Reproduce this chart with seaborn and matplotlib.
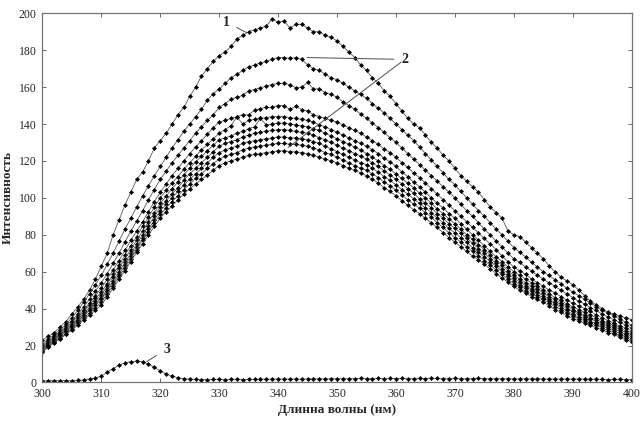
import numpy as np
import pandas as pd
import matplotlib
matplotlib.use("Agg")
import matplotlib.pyplot as plt
import seaborn as sns

# =========================
# data
# =========================
wavelength = list(range(300, 401))

curve_1 = [23, 25, 27, 30, 33, 37, 41, 45, 50, 56,
           63, 70, 80, 88, 96, 103, 110, 114, 120, 127,
           131, 135, 140, 145, 149, 155, 160, 166, 170, 174,
           177, 179, 182, 186, 188, 190, 191, 192, 193, 197,
           195, 196, 192, 194, 194, 192, 190, 190, 188, 187,
           185, 182, 179, 176, 172, 169, 165, 162, 158, 155,
           151, 147, 143, 140, 138, 134, 130, 127, 123, 120,
           116, 112, 109, 106, 103, 99, 95, 92, 89, 82,
           80, 79, 76, 73, 70, 67, 63, 60, 57, 55,
           53, 50, 47, 44, 42, 40, 38, 37, 36, 35,
           34]

curve_2a = [21, 23.5, 26, 28.5, 31.5, 35, 39, 43.5, 48, 53,
            58, 64, 70, 76.5, 83, 89, 95, 101, 106.5, 112,
            117, 122, 127, 131.5, 136, 140, 144, 148, 153, 156.5,
            159, 162, 165, 167, 169, 171, 172, 173, 174, 175,
            176, 176, 175.5, 176, 175, 172, 170, 169, 167, 165,
            164, 162, 160, 158, 156, 154, 151, 148.5, 146, 143,
            140, 137, 134, 131, 127.5, 124, 120.5, 117, 113.5, 110,
            107, 103.5, 100, 96.5, 93, 90, 86.5, 83, 80, 76.5,
            73, 70.5, 68, 65, 62.5, 60, 58, 55.5, 53.5, 51,
            49, 47, 45, 43, 41, 39, 37.5, 36, 34.5, 32.5,
            31]

curve_2b = [20, 22.5, 25, 27.5, 30.5, 33.5, 37, 41, 45, 49.5,
            54, 59, 64.5, 70, 76, 82, 87.5, 93, 99, 104.5,
            110, 114.5, 119, 123, 127, 131, 135, 138.5, 142, 145,
            149, 151, 153.5, 154.5, 155.5, 158, 158.7, 159.6, 160.5, 161.4,
            162, 162, 161.4, 159.6, 160, 162.5, 159, 159, 157, 156,
            154.5, 152, 150, 148, 145.5, 143, 140.5, 138, 135.5, 132.5,
            130, 127, 124, 121, 118, 115, 112, 109, 106, 103,
            100, 96.5, 93, 90, 86.5, 83, 80, 76.5, 73.5, 70,
            67, 65, 62.5, 60.5, 58, 56, 54, 52, 50, 48,
            46, 44, 42.5, 40.5, 39, 37, 35.5, 34, 32.5, 31,
            29.5]

curve_2c = [19.5, 22, 24.5, 27, 29.5, 32.5, 36, 39.5, 43, 47,
            51, 56, 61, 66, 71.5, 77, 82, 87, 92.5, 98,
            103, 107.5, 112, 116, 120, 124, 127.5, 131, 134.5, 138,
            141, 142, 143, 144, 145, 145, 147.5, 148.4, 149, 149,
            150, 150, 148, 149.6, 147.8, 147, 145, 144, 143, 142,
            141, 139.5, 138, 136.5, 135, 133, 131, 129, 126.5, 124.5,
            122, 119, 116.5, 113.5, 111, 108, 105, 102, 99, 96,
            93, 90, 87, 84, 81, 78, 75, 72, 68.5, 65.5,
            62.5, 60.5, 58.5, 56, 54, 52, 50, 48.5, 46.5, 44.5,
            43, 41.5, 40, 38.5, 36.5, 35, 33.5, 32, 30.5, 29.5,
            28]

curve_2d = [19, 21.5, 24, 26.5, 29, 31.5, 35, 38.5, 42, 45.5,
            49, 53.5, 58.5, 63.5, 69, 74, 79, 84.5, 89.5, 95,
            100, 104, 108, 111.5, 115.5, 119, 122.5, 126, 129, 132,
            135, 137, 139, 144, 140, 142, 142.5, 143, 143.5, 144,
            144, 144, 143.5, 143, 142.5, 142, 141, 139.5, 138.5, 137,
            135.5, 134, 132.5, 131, 129.5, 128, 126, 124, 121.5, 119.5,
            117, 114, 111.5, 108.5, 106, 103, 100, 97, 94.5, 91.5,
            89, 86, 83, 80, 77, 74, 71, 68, 65.5, 62.5,
            60, 58, 56, 54, 52, 50, 48, 46, 44.5, 42.5,
            41, 39.5, 38, 36.5, 35, 33.5, 32, 31, 29.5, 28,
            27]

curve_2e = [18.5, 21, 23.5, 26, 28.5, 31, 34, 37.5, 40.5, 44,
            47.5, 52, 57, 62, 67, 72, 77, 82, 87, 92,
            97, 101, 105, 108.5, 112.5, 116, 119.5, 122.5, 125.5, 128.5,
            131.5, 132.5, 133.5, 135, 136, 137.5, 138.5, 143, 139.5, 140,
            140.5, 140.5, 140, 139.5, 139, 138.5, 137.5, 136.5, 135, 133.5,
            132, 130.5, 129, 127.5, 126, 124, 122, 120, 117.5, 115.5,
            113, 110.5, 108, 105.5, 102.5, 100, 97, 94, 91.5, 88.5,
            86, 83, 80, 77.5, 74.5, 72, 69, 66, 63.5, 60.5,
            58, 56, 54, 52, 50.5, 48.5, 46.5, 45, 43, 41.5,
            39.5, 38, 36.5, 35, 34, 32.5, 31, 30, 28.5, 27,
            26]

curve_2f = [18, 20.5, 23, 25.5, 28, 30.5, 33.5, 36.5, 39.5, 43,
            46, 50.5, 55, 60, 65, 70, 75, 80, 85, 90,
            95, 98.5, 102, 105.5, 109.5, 113, 116, 119, 122, 125,
            128, 129.5, 130.5, 131.5, 133, 134, 135, 135.5, 136, 136.5,
            137, 137, 136.5, 136, 135.5, 135, 134, 132.5, 131.5, 130,
            128.5, 127, 125.5, 124, 122.5, 121, 119, 117, 114.5, 112.5,
            110, 107.5, 105, 102.5, 99.5, 97, 94.5, 91.5, 89, 86,
            83.5, 81, 78, 75.5, 72.5, 70, 67, 64.5, 61.5, 59,
            56.5, 54.5, 52.5, 50.5, 49, 47, 45, 43.5, 42, 40,
            38.5, 37, 35.5, 34.5, 33, 31.5, 30, 29, 27.5, 26,
            25]

curve_2g = [17.5, 20, 22.5, 25, 27.5, 30, 33, 36, 39, 42,
            45, 49.5, 54, 58.5, 63.5, 68.5, 73.5, 78, 83, 88,
            93, 96.5, 100, 103.5, 107, 110, 113, 116, 119, 122,
            124.5, 126, 127, 128, 129.5, 130.5, 131, 131.5, 132, 132.5,
            133, 133, 132.5, 132.5, 132, 131.5, 130.5, 129.5, 128, 126.5,
            125, 123.5, 122, 120.5, 119, 118, 116, 114, 111.5, 109.5,
            107, 104.5, 102, 99.5, 97, 94.5, 92, 89, 86.5, 83.5,
            81, 78.5, 76, 73, 70.5, 68, 65.5, 63, 60, 57.5,
            55, 53, 51, 49.5, 47.5, 46, 44, 42.5, 40.5, 39,
            37, 35.5, 34.5, 33, 32, 30.5, 29, 28, 26.5, 25,
            24]

curve_2h = [17, 19.5, 22, 24, 26.5, 29, 32, 35, 37.5, 40.5,
            43.5, 48, 52.5, 57.5, 62, 67, 72, 77, 81.5, 86.5,
            91, 94.5, 98, 101, 104.5, 107.5, 110.5, 113, 116, 118.5,
            121, 122.5, 123.5, 124.5, 126, 127, 127.5, 128, 128.5, 129,
            129.5, 129.5, 129, 129, 128.5, 128, 127, 126, 124.5, 123.5,
            122, 120.5, 119, 117.5, 116, 115, 113, 111, 108.5, 106.5,
            104, 101.5, 99, 96.5, 94.5, 92, 89.5, 86.5, 84, 81,
            78.5, 76, 73.5, 71, 68.5, 66, 63.5, 61, 58.5, 56,
            53.5, 51.5, 49.5, 48, 46.5, 45, 43, 41, 39.5, 37.5,
            36, 34.5, 33.5, 32, 31, 29.5, 28, 27, 25.5, 24,
            23]

curve_2i = [16.5, 19, 21.5, 23.5, 26, 28.5, 31, 34, 36.5, 39,
            42, 46.5, 51, 56, 60.5, 65.5, 70.5, 75, 80, 84.5,
            89, 92.5, 95.5, 99, 102, 105, 107.5, 110, 112.5, 115,
            117.5, 119, 120, 121, 122, 123, 123.5, 124, 124.5, 125,
            125.5, 125.5, 125, 125, 124.5, 124, 123, 122, 121, 120,
            119, 117.5, 116, 115, 113.5, 112, 110, 108, 105.5, 103.5,
            101, 98.5, 96, 93.5, 91.5, 89, 86.5, 84, 81, 78.5,
            76, 73.5, 71, 68.5, 66.5, 64, 61.5, 59, 56.5, 54.5,
            52, 50, 48.5, 46.5, 45, 43.5, 41.5, 39.5, 38, 36,
            34.5, 33.5, 32, 31, 29.5, 28.5, 27, 26, 24.5, 23,
            22]

curve_3 = [1, 1, 1, 1, 1, 1, 1.1, 1.3, 1.7, 2.4,
           3.5, 5.5, 7.5, 9.3, 10.6, 11.3, 11.6, 11.2, 10, 8.2,
           6.3, 4.6, 3.4, 2.6, 2.1, 1.8, 1.7, 1.6, 1.6, 1.7,
           1.7, 1.6, 1.8, 1.7, 1.6, 1.7, 1.7, 1.8, 1.7, 1.8,
           1.8, 1.9, 1.8, 1.9, 1.8, 1.9, 1.9, 2.0, 1.9, 2.1,
           2.0, 2.1, 2.1, 2.0, 2.3, 2.1, 2.0, 2.2, 2.1, 2.2,
           2.1, 2.2, 2.0, 2.1, 2.2, 2.1, 2.3, 2.2, 2.1, 2.0,
           2.2, 2.1, 2.0, 2.1, 2.2, 2.0, 2.0, 2.1, 2.0, 2.1,
           2.0, 1.9, 2.0, 1.9, 2.0, 1.9, 1.8, 1.9, 1.8, 1.9,
           1.8, 1.9, 1.8, 1.7, 1.8, 1.7, 1.6, 1.7, 1.7, 1.6,
           1.6]

curves = {
    "1": curve_1,
    "2a": curve_2a, "2b": curve_2b, "2c": curve_2c, "2d": curve_2d,
    "2e": curve_2e, "2f": curve_2f, "2g": curve_2g, "2h": curve_2h,
    "2i": curve_2i,
    "3": curve_3,
}

x_ticks = list(range(300, 401, 10))
y_ticks = list(range(0, 201, 20))

# =========================
# style
# =========================
sns.set_style("ticks")
plt.rcParams["font.family"] = ["Liberation Serif", "DejaVu Serif"]

fig = plt.figure(figsize=(6.42, 4.21), dpi=100)
ax = fig.add_axes([0.066, 0.0915, 0.918, 0.877])

for name, vals in curves.items():
    sns.lineplot(
        x=wavelength, y=vals, ax=ax,
        color="0.35", linewidth=0.6,
        marker="D", markersize=2.1,
        markerfacecolor="black", markeredgecolor="black", markeredgewidth=0.4,
        legend=False,
    )

ax.set_xlim(300, 400)
ax.set_ylim(0, 200)
ax.set_xticks(x_ticks)
ax.set_yticks(y_ticks)
ax.tick_params(direction="in", top=True, right=True, labeltop=False, labelright=False,
               length=3, width=0.7, color="0.4", labelsize=8.5, pad=4)
for sp in ax.spines.values():
    sp.set_color("0.45")
    sp.set_linewidth(0.9)

ax.set_xlabel("Длинна волны (нм)", fontsize=9.5, fontweight="bold", labelpad=3)
ax.set_ylabel("Интенсивность", fontsize=9.5, fontweight="bold", labelpad=4)

# =========================
# curve labels
# =========================
line_kw = dict(arrowstyle="-", color="0.3", lw=0.7, shrinkA=3, shrinkB=0)
ax.annotate("1", xy=(334.6, 189.6), xytext=(331.2, 195.2), fontsize=10, fontweight="bold",
            ha="center", va="center", arrowprops=line_kw)
ax.annotate("2", xy=(344.9, 176.0), xytext=(361.5, 175.0), fontsize=10, fontweight="bold",
            ha="center", va="center", arrowprops=line_kw)
ax.annotate("", xy=(341.7, 127.3), xytext=(360.9, 173.6), arrowprops=dict(line_kw, shrinkA=0))
ax.annotate("3", xy=(317.7, 11.3), xytext=(321.1, 18.1), fontsize=10, fontweight="bold",
            ha="center", va="center", arrowprops=line_kw)

fig.savefig("out.png", dpi=100)
plt.close(fig)
